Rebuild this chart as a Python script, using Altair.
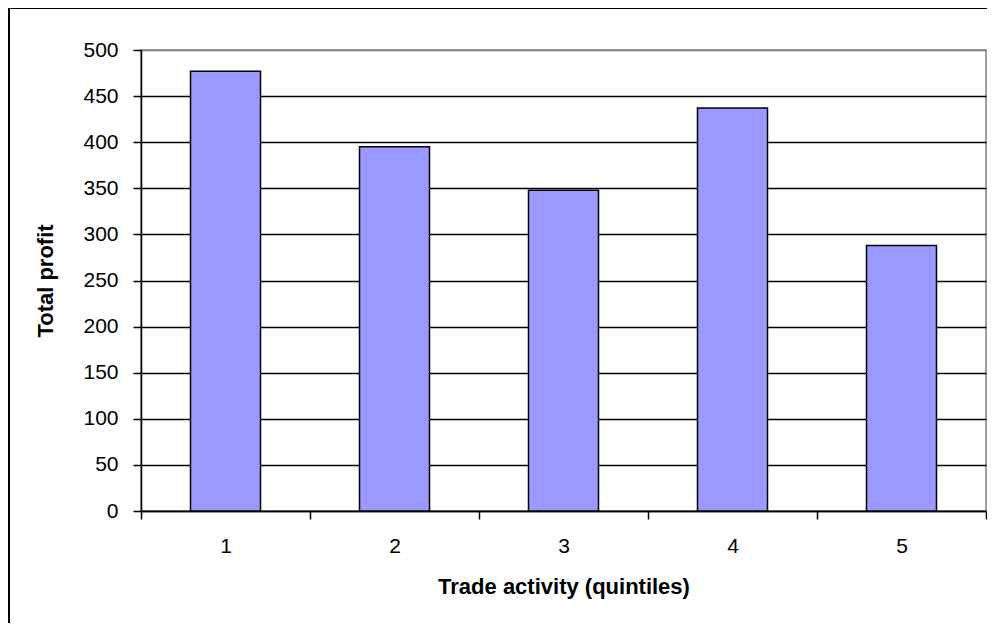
import altair as alt
import pandas as pd

quintiles = [1, 2, 3, 4, 5]
profit = [477, 395, 348, 437, 288]

df = pd.DataFrame({"q": quintiles, "profit": profit})

W, H = 845, 461
FONT = "Liberation Sans"

common = dict(
    labelFont=FONT,
    labelFontSize=21,
    labelColor="black",
    titleFont=FONT,
    titleFontSize=22,
    titleFontWeight="bold",
    titleColor="black",
    tickSize=8,
    tickColor="black",
    tickWidth=1.5,
    domainColor="black",
    domainWidth=1.5,
)

bars = alt.Chart(df).mark_bar(
    size=70, fill="#9999FF", stroke="black", strokeWidth=1.5
).encode(
    x=alt.X(
        "q:Q",
        scale=alt.Scale(domain=[0.5, 5.5], nice=False, zero=False, padding=0),
        axis=alt.Axis(
            title="Trade activity (quintiles)",
            values=[0.5, 1.5, 2.5, 3.5, 4.5, 5.5],
            labelExpr="datum.value < 5 ? toString(datum.value + 0.5) : ''",
            labelOffset=84.5,
            labelFlush=False,
            labelOverlap=False,
            grid=False,
            labelPadding=16,
            titlePadding=20,
            **common,
        ),
    ),
    y=alt.Y(
        "profit:Q",
        scale=alt.Scale(domain=[0, 500], nice=False),
        axis=alt.Axis(
            title="Total profit",
            values=list(range(0, 501, 50)),
            grid=True,
            gridColor={"condition": {"test": "datum.value == 500", "value": "#808080"}, "value": "black"},
            gridWidth=1.5,
            labelPadding=15,
            titlePadding=25,
            **common,
        ),
    ),
)

frame_top = alt.Chart(df).mark_rule(color="black", strokeWidth=2, clip=False).encode(
    x=alt.value(-132), x2=alt.value(W + 1), y=alt.value(-42)
)
frame_left = alt.Chart(df).mark_rule(color="black", strokeWidth=2, clip=False).encode(
    x=alt.value(-132), y=alt.value(-42), y2=alt.value(H + 112)
)

chart = alt.layer(bars, frame_top, frame_left).properties(
    width=W,
    height=H,
    autosize=alt.AutoSizeParams(type="none"),
    padding={"left": 133, "top": 42, "right": 1, "bottom": 112},
    background="white",
).configure_view(
    stroke="#808080", strokeWidth=1.5
)

chart.save("out.html", embed_options={"renderer": "svg", "actions": False})
